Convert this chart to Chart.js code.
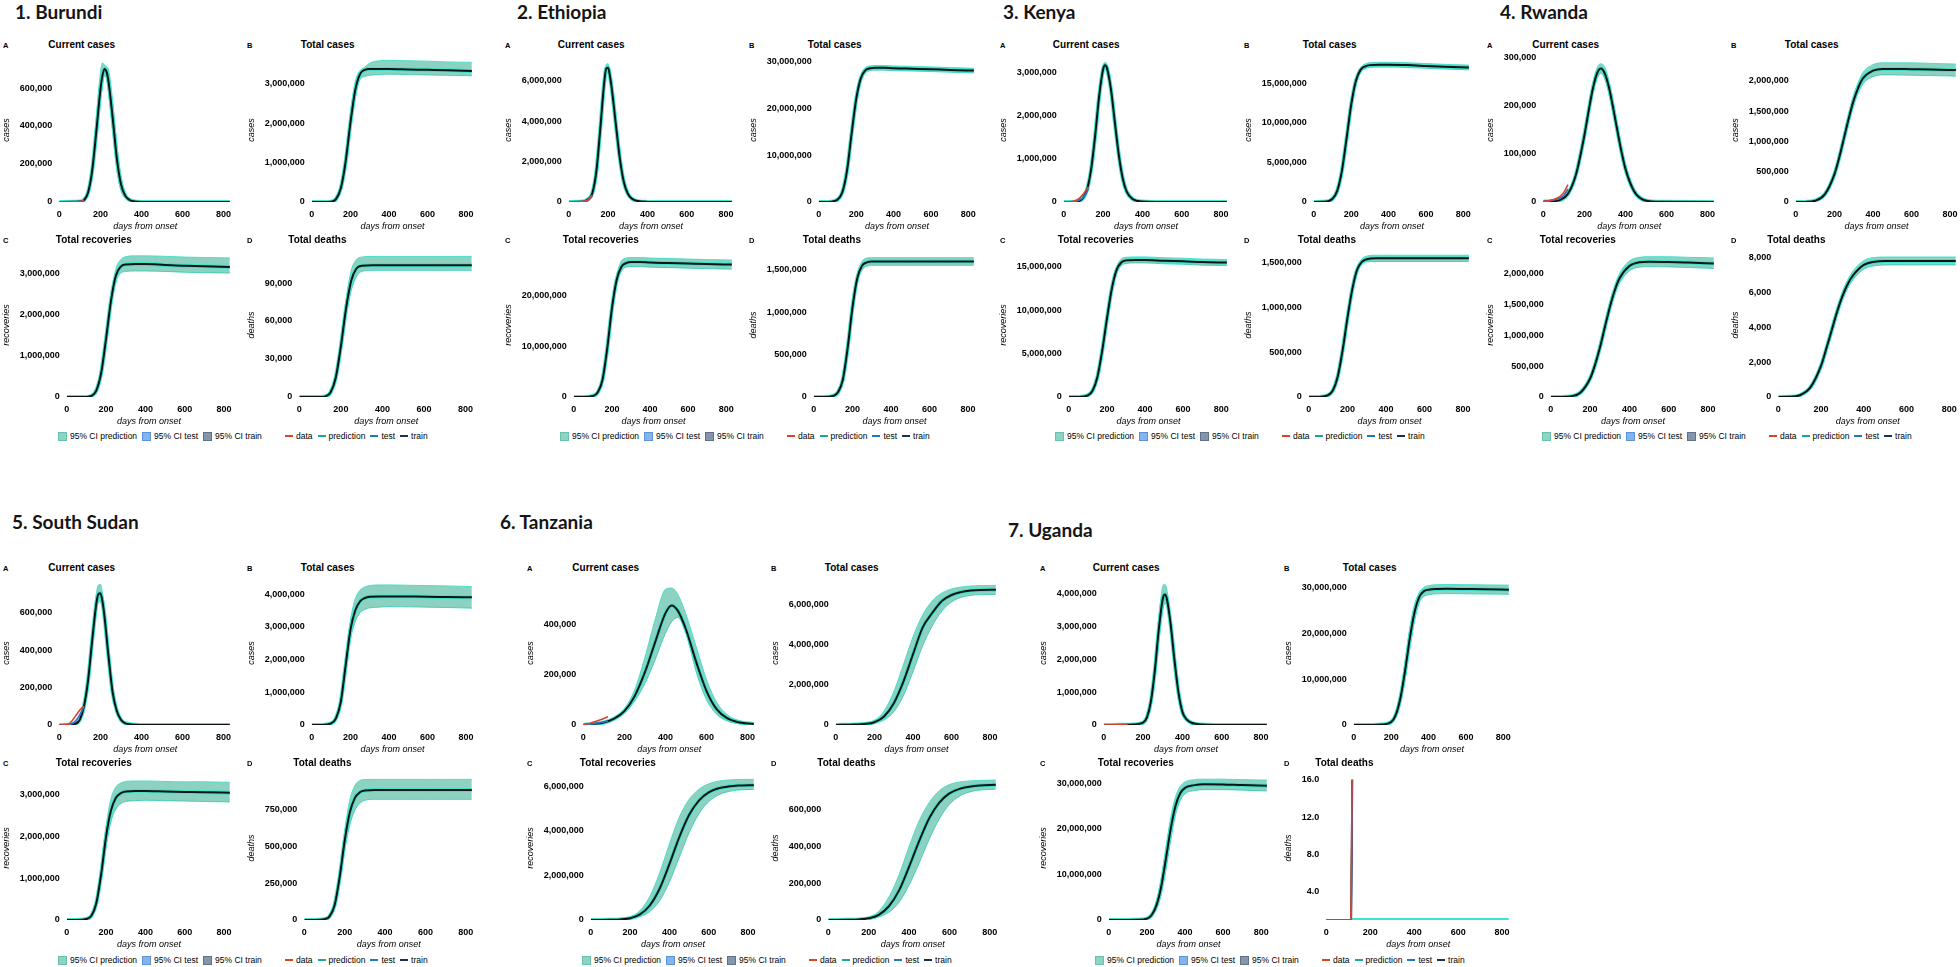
<!DOCTYPE html>
<html>
<head>
<meta charset="utf-8">
<script src="https://cdn.jsdelivr.net/npm/chart.js@4.4.1/dist/chart.umd.min.js"></script>
<style>
  html, body { margin: 0; padding: 0; background: #fff; }
  body { width: 1960px; height: 967px; position: relative; overflow: hidden;
         font-family: "Liberation Sans", Arial, sans-serif; color: #000; }
  canvas { position: absolute; }
  .country { position: absolute; font-family: Lato, "Open Sans", sans-serif; font-weight: 700;
             font-size: 19px; line-height: 1; white-space: nowrap; color: #151515; }
  .letter { position: absolute; font-size: 7.5px; font-weight: 700; line-height: 1; }
  .ptitle { position: absolute; font-size: 10px; font-weight: 700; line-height: 1; white-space: nowrap; }
  .legend { position: absolute; display: flex; align-items: center; font-size: 8.5px;
            line-height: 1; white-space: nowrap; }
  .legend .sw { display: inline-block; width: 7px; height: 7px; margin-right: 3px; }
  .legend .ln { display: inline-block; width: 8px; height: 2px; margin-right: 3px; }
  .legend .it { margin-right: 5px; }
</style>
</head>
<body>
<script>
/* ─── Shared axis values ─── */
const xTicks = [0, 200, 400, 600, 800];
const xMax = 836;

/* ─── 1. Burundi ─── */
const burundiDaysA = [0, 100, 120, 140, 160, 180, 200, 210, 220, 230, 240, 260, 280, 300, 320, 340, 360, 400, 500, 830];
const burundiCurrent   = [0, 2e3, 10e3, 50e3, 165e3, 370e3, 590e3, 665e3, 700e3, 685e3, 630e3, 440e3, 230e3, 95e3, 35e3, 12e3, 4e3, 500, 0, 0];
const burundiCurrentHi = [0, 3e3, 14e3, 65e3, 205e3, 440e3, 680e3, 732e3, 722e3, 712e3, 695e3, 530e3, 310e3, 140e3, 55e3, 20e3, 7e3, 1e3, 0, 0];
const burundiCurrentLo = [0, 1e3, 7e3, 38e3, 130e3, 310e3, 520e3, 610e3, 665e3, 650e3, 575e3, 370e3, 170e3, 60e3, 20e3, 6e3, 2e3, 0, 0, 0];
const burundiEarlyDays = [0, 40, 80, 100, 120];
const burundiData = [0, 0, 1e3, 3e3, 9e3];
const burundiTest = [0, 0, 1e3, 2e3, 8e3];
const burundiDaysS = [0, 100, 125, 150, 175, 200, 225, 250, 275, 300, 350, 400, 500, 600, 700, 830];
const burundiTotal   = [0, 9e3, 71e3, 340e3, 1.01e6, 2.0e6, 2.83e6, 3.24e6, 3.35e6, 3.37e6, 3.37e6, 3.37e6, 3.36e6, 3.35e6, 3.34e6, 3.32e6];
const burundiTotalHi = [0, 12e3, 90e3, 420e3, 1.2e6, 2.25e6, 3.05e6, 3.33e6, 3.42e6, 3.52e6, 3.58e6, 3.59e6, 3.58e6, 3.57e6, 3.55e6, 3.54e6];
const burundiTotalLo = [0, 6e3, 55e3, 270e3, 0.85e6, 1.8e6, 2.62e6, 3.1e6, 3.18e6, 3.21e6, 3.23e6, 3.24e6, 3.23e6, 3.22e6, 3.21e6, 3.2e6];
const burundiRecov   = [0, 2e3, 25e3, 155e3, 590e3, 1.43e6, 2.35e6, 2.96e6, 3.18e6, 3.23e6, 3.24e6, 3.24e6, 3.22e6, 3.2e6, 3.19e6, 3.17e6];
const burundiRecovHi = [0, 3e3, 32e3, 175e3, 650e3, 1.55e6, 2.5e6, 3.12e6, 3.35e6, 3.42e6, 3.44e6, 3.44e6, 3.43e6, 3.41e6, 3.4e6, 3.39e6];
const burundiRecovLo = [0, 1e3, 18e3, 135e3, 530e3, 1.3e6, 2.2e6, 2.8e6, 3.02e6, 3.06e6, 3.07e6, 3.07e6, 3.06e6, 3.04e6, 3.03e6, 3.02e6];
const burundiDeaths   = [0, 50, 500, 3.6e3, 15e3, 40e3, 70e3, 92e3, 101.5e3, 103.7e3, 104e3, 104e3, 104e3, 104e3, 104e3, 104e3];
const burundiDeathsHi = [0, 60, 600, 4.3e3, 17e3, 45e3, 77e3, 100e3, 108.5e3, 110.5e3, 111e3, 111e3, 111e3, 111e3, 111e3, 111e3];
const burundiDeathsLo = [0, 40, 400, 3e3, 13e3, 35e3, 63e3, 84e3, 95e3, 99e3, 100e3, 100e3, 100e3, 100e3, 100e3, 100e3];

/* ─── 2. Ethiopia ─── */
const ethiopiaDaysA = [0, 60, 80, 100, 120, 140, 160, 180, 190, 200, 210, 220, 240, 260, 280, 300, 320, 350, 400, 500, 830];
const ethiopiaCurrent   = [0, 8e3, 40e3, 150e3, 450e3, 1.5e6, 3.6e6, 5.9e6, 6.6e6, 6.65e6, 6.2e6, 5.52e6, 3.79e6, 2.14e6, 990e3, 420e3, 170e3, 45e3, 6e3, 0, 0];
const ethiopiaCurrentHi = [0, 9e3, 45e3, 170e3, 500e3, 1.65e6, 3.85e6, 6.15e6, 6.8e6, 6.85e6, 6.42e6, 5.75e6, 4.0e6, 2.3e6, 1.08e6, 470e3, 195e3, 55e3, 8e3, 0, 0];
const ethiopiaCurrentLo = [0, 7e3, 35e3, 130e3, 400e3, 1.35e6, 3.35e6, 5.65e6, 6.4e6, 6.45e6, 5.98e6, 5.3e6, 3.6e6, 1.98e6, 900e3, 375e3, 150e3, 38e3, 4e3, 0, 0];
const ethiopiaEarlyDays = [0, 40, 80, 100, 120];
const ethiopiaData = [0, 5e3, 40e3, 120e3, 350e3];
const ethiopiaTest = [0, 3e3, 30e3, 100e3, 300e3];
const ethiopiaDaysS = [0, 50, 100, 125, 150, 175, 200, 225, 250, 275, 300, 350, 400, 500, 600, 700, 830];
const ethiopiaTotal   = [0, 10e3, 500e3, 2.0e6, 6.5e6, 14.5e6, 22e6, 26.5e6, 28.2e6, 28.6e6, 28.7e6, 28.7e6, 28.6e6, 28.5e6, 28.4e6, 28.25e6, 28.1e6];
const ethiopiaTotalHi = [0, 12e3, 560e3, 2.2e6, 7.0e6, 15.3e6, 22.8e6, 27.2e6, 28.8e6, 29.1e6, 29.2e6, 29.2e6, 29.1e6, 29.0e6, 28.9e6, 28.75e6, 28.6e6];
const ethiopiaTotalLo = [0, 8e3, 440e3, 1.8e6, 6.0e6, 13.7e6, 21.2e6, 25.8e6, 27.6e6, 28.1e6, 28.2e6, 28.2e6, 28.1e6, 28.0e6, 27.9e6, 27.75e6, 27.6e6];
const ethiopiaRecov   = [0, 5e3, 200e3, 900e3, 3.3e6, 9.5e6, 17.5e6, 23.2e6, 25.8e6, 26.5e6, 26.7e6, 26.7e6, 26.6e6, 26.5e6, 26.4e6, 26.3e6, 26.2e6];
const ethiopiaRecovHi = [0, 6e3, 240e3, 1.05e6, 3.7e6, 10.3e6, 18.5e6, 24.2e6, 26.9e6, 27.5e6, 27.6e6, 27.6e6, 27.5e6, 27.4e6, 27.3e6, 27.2e6, 27.1e6];
const ethiopiaRecovLo = [0, 4e3, 160e3, 750e3, 2.9e6, 8.7e6, 16.5e6, 22.2e6, 24.9e6, 25.7e6, 25.8e6, 25.8e6, 25.7e6, 25.6e6, 25.5e6, 25.4e6, 25.3e6];
const ethiopiaDeaths   = [0, 300, 12e3, 55e3, 200e3, 570e3, 1.05e6, 1.4e6, 1.55e6, 1.59e6, 1.6e6, 1.6e6, 1.6e6, 1.6e6, 1.6e6, 1.6e6, 1.6e6];
const ethiopiaDeathsHi = [0, 400, 14e3, 62e3, 225e3, 620e3, 1.11e6, 1.45e6, 1.6e6, 1.64e6, 1.645e6, 1.645e6, 1.645e6, 1.645e6, 1.645e6, 1.645e6, 1.645e6];
const ethiopiaDeathsLo = [0, 200, 10e3, 48e3, 175e3, 520e3, 0.99e6, 1.35e6, 1.5e6, 1.545e6, 1.555e6, 1.555e6, 1.555e6, 1.555e6, 1.555e6, 1.555e6, 1.555e6];

/* ─── 3. Kenya ─── */
const kenyaDaysA = [0, 60, 80, 100, 120, 140, 160, 180, 200, 210, 220, 240, 260, 280, 300, 320, 350, 400, 500, 830];
const kenyaCurrent   = [0, 5e3, 26e3, 103e3, 318e3, 790e3, 1.56e6, 2.46e6, 3.08e6, 3.17e6, 3.1e6, 2.61e6, 1.84e6, 1.09e6, 546e3, 240e3, 70e3, 10e3, 0, 0];
const kenyaCurrentHi = [0, 6e3, 30e3, 115e3, 345e3, 850e3, 1.65e6, 2.56e6, 3.17e6, 3.24e6, 3.18e6, 2.72e6, 1.96e6, 1.19e6, 610e3, 275e3, 85e3, 13e3, 0, 0];
const kenyaCurrentLo = [0, 4e3, 22e3, 92e3, 292e3, 730e3, 1.47e6, 2.36e6, 2.99e6, 3.09e6, 3.02e6, 2.5e6, 1.73e6, 1.0e6, 490e3, 210e3, 58e3, 8e3, 0, 0];
const kenyaEarlyDays = [0, 40, 60, 80, 100, 120, 125];
const kenyaData = [0, 8e3, 35e3, 90e3, 190e3, 320e3, 355e3];
const kenyaTest = [0, 4e3, 15e3, 45e3, 110e3, 260e3, 320e3];
const kenyaDaysS = [0, 50, 100, 125, 150, 175, 200, 225, 250, 275, 300, 350, 400, 500, 600, 700, 830];
const kenyaTotal   = [0, 20e3, 400e3, 1.4e6, 3.9e6, 8.0e6, 12.3e6, 15.3e6, 16.7e6, 17.15e6, 17.3e6, 17.35e6, 17.35e6, 17.3e6, 17.2e6, 17.1e6, 17.0e6];
const kenyaTotalHi = [0, 22e3, 440e3, 1.5e6, 4.15e6, 8.4e6, 12.8e6, 15.7e6, 17.0e6, 17.45e6, 17.6e6, 17.65e6, 17.65e6, 17.6e6, 17.5e6, 17.4e6, 17.3e6];
const kenyaTotalLo = [0, 18e3, 360e3, 1.3e6, 3.65e6, 7.6e6, 11.8e6, 14.9e6, 16.4e6, 16.85e6, 17.0e6, 17.05e6, 17.05e6, 17.0e6, 16.9e6, 16.8e6, 16.7e6];
const kenyaRecov   = [0, 8e3, 200e3, 750e3, 2.3e6, 5.3e6, 9.0e6, 12.4e6, 14.6e6, 15.5e6, 15.75e6, 15.8e6, 15.8e6, 15.7e6, 15.65e6, 15.55e6, 15.5e6];
const kenyaRecovHi = [0, 9e3, 230e3, 830e3, 2.5e6, 5.7e6, 9.5e6, 12.9e6, 15.0e6, 15.9e6, 16.1e6, 16.15e6, 16.15e6, 16.05e6, 16.0e6, 15.9e6, 15.85e6];
const kenyaRecovLo = [0, 7e3, 170e3, 670e3, 2.1e6, 4.9e6, 8.5e6, 11.9e6, 14.2e6, 15.1e6, 15.4e6, 15.45e6, 15.45e6, 15.35e6, 15.3e6, 15.2e6, 15.15e6];
const kenyaDeaths   = [0, 1e3, 20e3, 75e3, 230e3, 520e3, 880e3, 1.2e6, 1.42e6, 1.51e6, 1.54e6, 1.55e6, 1.55e6, 1.55e6, 1.55e6, 1.55e6, 1.55e6];
const kenyaDeathsHi = [0, 1.1e3, 22e3, 82e3, 250e3, 560e3, 930e3, 1.24e6, 1.45e6, 1.545e6, 1.575e6, 1.585e6, 1.585e6, 1.585e6, 1.585e6, 1.585e6, 1.585e6];
const kenyaDeathsLo = [0, 0.9e3, 18e3, 68e3, 210e3, 480e3, 830e3, 1.16e6, 1.39e6, 1.48e6, 1.51e6, 1.515e6, 1.515e6, 1.515e6, 1.515e6, 1.515e6, 1.515e6];

/* ─── 4. Rwanda ─── */
const rwandaDaysA = [0, 40, 80, 120, 160, 200, 220, 240, 260, 280, 300, 320, 340, 360, 380, 400, 440, 480, 550, 830];
const rwandaCurrent   = [1e3, 1.5e3, 4e3, 17e3, 59e3, 139e3, 188e3, 234e3, 266e3, 278e3, 267e3, 238e3, 196e3, 150e3, 106e3, 69e3, 24e3, 6e3, 500, 0];
const rwandaCurrentHi = [1e3, 1.8e3, 4.6e3, 19e3, 64e3, 148e3, 198e3, 245e3, 278e3, 288e3, 280e3, 252e3, 210e3, 163e3, 117e3, 78e3, 29e3, 8e3, 800, 0];
const rwandaCurrentLo = [1e3, 1.2e3, 3.4e3, 15e3, 54e3, 130e3, 178e3, 223e3, 254e3, 268e3, 255e3, 225e3, 183e3, 138e3, 96e3, 61e3, 20e3, 4.5e3, 300, 0];
const rwandaEarlyDays = [0, 20, 40, 60, 80, 100, 120];
const rwandaData = [1e3, 2e3, 4e3, 7e3, 11e3, 20e3, 36e3];
const rwandaTest = [1e3, 1.5e3, 3e3, 5e3, 8e3, 14e3, 27e3];
const rwandaDaysS = [0, 50, 100, 150, 200, 225, 250, 275, 300, 325, 350, 400, 450, 500, 600, 700, 830];
const rwandaTotal   = [0, 2e3, 21e3, 125e3, 457e3, 735e3, 1.06e6, 1.39e6, 1.68e6, 1.9e6, 2.05e6, 2.17e6, 2.2e6, 2.2e6, 2.195e6, 2.19e6, 2.18e6];
const rwandaTotalHi = [0, 2.5e3, 25e3, 140e3, 500e3, 790e3, 1.13e6, 1.47e6, 1.77e6, 1.99e6, 2.15e6, 2.27e6, 2.3e6, 2.3e6, 2.3e6, 2.29e6, 2.28e6];
const rwandaTotalLo = [0, 1.5e3, 17e3, 110e3, 415e3, 680e3, 0.99e6, 1.31e6, 1.59e6, 1.81e6, 1.96e6, 2.07e6, 2.1e6, 2.1e6, 2.095e6, 2.09e6, 2.08e6];
const rwandaRecov   = [0, 1e3, 10e3, 70e3, 300e3, 520e3, 800e3, 1.13e6, 1.45e6, 1.72e6, 1.92e6, 2.12e6, 2.18e6, 2.19e6, 2.185e6, 2.175e6, 2.16e6];
const rwandaRecovHi = [0, 1.2e3, 12e3, 80e3, 330e3, 570e3, 860e3, 1.2e6, 1.53e6, 1.8e6, 2.0e6, 2.2e6, 2.26e6, 2.27e6, 2.27e6, 2.26e6, 2.25e6];
const rwandaRecovLo = [0, 0.8e3, 8e3, 60e3, 270e3, 470e3, 740e3, 1.06e6, 1.37e6, 1.64e6, 1.84e6, 2.04e6, 2.1e6, 2.11e6, 2.105e6, 2.095e6, 2.08e6];
const rwandaDeaths   = [0, 10, 100, 550, 1.8e3, 2.8e3, 3.85e3, 4.9e3, 5.8e3, 6.5e3, 7.0e3, 7.6e3, 7.78e3, 7.82e3, 7.82e3, 7.82e3, 7.82e3];
const rwandaDeathsHi = [0, 12, 115, 620, 1.95e3, 3.0e3, 4.1e3, 5.15e3, 6.05e3, 6.75e3, 7.25e3, 7.85e3, 8.02e3, 8.05e3, 8.05e3, 8.05e3, 8.05e3];
const rwandaDeathsLo = [0, 8, 85, 480, 1.65e3, 2.6e3, 3.6e3, 4.65e3, 5.55e3, 6.25e3, 6.75e3, 7.35e3, 7.54e3, 7.59e3, 7.59e3, 7.59e3, 7.59e3];

/* ─── 5. South Sudan ─── */
const ssDaysA = [0, 40, 60, 80, 100, 120, 140, 160, 180, 190, 200, 210, 220, 240, 260, 280, 300, 320, 350, 400, 500, 830];
const ssCurrent   = [0, 1e3, 3e3, 7e3, 29e3, 100e3, 239e3, 452e3, 648e3, 699e3, 704e3, 661e3, 580e3, 362e3, 171e3, 75e3, 28e3, 10e3, 3e3, 500, 0, 0];
const ssCurrentHi = [0, 1.2e3, 3.5e3, 8e3, 33e3, 110e3, 260e3, 490e3, 700e3, 748e3, 752e3, 705e3, 620e3, 395e3, 190e3, 86e3, 33e3, 12e3, 4e3, 600, 0, 0];
const ssCurrentLo = [0, 0.8e3, 2.5e3, 6e3, 25e3, 90e3, 218e3, 415e3, 600e3, 655e3, 660e3, 620e3, 540e3, 330e3, 152e3, 65e3, 23e3, 8e3, 2e3, 400, 0, 0];
const ssEarlyDays = [0, 40, 60, 80, 100, 110, 120];
const ssData = [0, 2e3, 20e3, 50e3, 80e3, 92e3, 100e3];
const ssTest = [0, 1e3, 6e3, 22e3, 55e3, 75e3, 100e3];
const ssDaysS = [0, 50, 100, 125, 150, 175, 200, 225, 250, 275, 300, 350, 400, 500, 600, 700, 830];
const ssTotal   = [0, 2e3, 50e3, 200e3, 700e3, 1.8e6, 2.9e6, 3.5e6, 3.78e6, 3.88e6, 3.92e6, 3.93e6, 3.93e6, 3.925e6, 3.92e6, 3.91e6, 3.9e6];
const ssTotalHi = [0, 2.5e3, 60e3, 240e3, 820e3, 2.05e6, 3.2e6, 3.85e6, 4.12e6, 4.22e6, 4.26e6, 4.28e6, 4.28e6, 4.27e6, 4.26e6, 4.25e6, 4.23e6];
const ssTotalLo = [0, 1.5e3, 40e3, 160e3, 580e3, 1.55e6, 2.6e6, 3.15e6, 3.43e6, 3.53e6, 3.58e6, 3.6e6, 3.62e6, 3.61e6, 3.6e6, 3.59e6, 3.57e6];
const ssRecov   = [0, 1e3, 25e3, 100e3, 400e3, 1.1e6, 2.0e6, 2.62e6, 2.92e6, 3.03e6, 3.07e6, 3.08e6, 3.08e6, 3.07e6, 3.06e6, 3.05e6, 3.04e6];
const ssRecovHi = [0, 1.2e3, 30e3, 120e3, 470e3, 1.28e6, 2.25e6, 2.9e6, 3.18e6, 3.27e6, 3.31e6, 3.32e6, 3.32e6, 3.31e6, 3.3e6, 3.3e6, 3.29e6];
const ssRecovLo = [0, 0.8e3, 20e3, 80e3, 330e3, 0.95e6, 1.75e6, 2.35e6, 2.65e6, 2.78e6, 2.83e6, 2.85e6, 2.86e6, 2.85e6, 2.84e6, 2.83e6, 2.82e6];
const ssDeaths   = [0, 300, 6e3, 25e3, 100e3, 290e3, 540e3, 730e3, 830e3, 870e3, 882e3, 885e3, 885e3, 885e3, 885e3, 885e3, 885e3];
const ssDeathsHi = [0, 400, 7e3, 30e3, 118e3, 335e3, 610e3, 815e3, 915e3, 950e3, 957e3, 958e3, 958e3, 958e3, 958e3, 958e3, 958e3];
const ssDeathsLo = [0, 200, 5e3, 20e3, 82e3, 245e3, 470e3, 645e3, 745e3, 795e3, 815e3, 822e3, 822e3, 822e3, 822e3, 822e3, 822e3];

/* ─── 6. Tanzania ─── */
const tzDaysA = [0, 50, 100, 150, 200, 250, 300, 350, 400, 430, 460, 500, 550, 600, 650, 700, 750, 830];
const tzCurrent   = [1e3, 4e3, 10e3, 25e3, 55e3, 115e3, 210e3, 330e3, 445e3, 476e3, 455e3, 380e3, 250e3, 135e3, 62e3, 27e3, 12e3, 4e3];
const tzCurrentHi = [1e3, 4.5e3, 11e3, 28e3, 65e3, 140e3, 270e3, 420e3, 540e3, 545e3, 520e3, 440e3, 310e3, 180e3, 90e3, 42e3, 20e3, 7e3];
const tzCurrentLo = [1e3, 3.5e3, 9e3, 22e3, 47e3, 95e3, 165e3, 260e3, 365e3, 410e3, 428e3, 365e3, 210e3, 100e3, 42e3, 16e3, 6e3, 2e3];
const tzEarlyDays = [0, 20, 40, 60, 80, 100, 120];
const tzData = [0, 4e3, 9e3, 14e3, 20e3, 26e3, 33e3];
const tzTest = [0, 2e3, 4e3, 6e3, 9e3, 12e3, 16e3];
const tzDaysS = [0, 100, 150, 200, 250, 300, 350, 400, 450, 500, 550, 600, 650, 700, 750, 830];
const tzTotal   = [0, 25e3, 50e3, 140e3, 427e3, 1.08e6, 2.16e6, 3.53e6, 4.87e6, 5.6e6, 6.2e6, 6.5e6, 6.65e6, 6.72e6, 6.75e6, 6.76e6];
const tzTotalHi = [0, 35e3, 80e3, 230e3, 700e3, 1.65e6, 3.0e6, 4.4e6, 5.5e6, 6.2e6, 6.6e6, 6.8e6, 6.9e6, 6.95e6, 6.97e6, 6.98e6];
const tzTotalLo = [0, 18e3, 35e3, 85e3, 250e3, 650e3, 1.45e6, 2.65e6, 3.95e6, 4.95e6, 5.7e6, 6.15e6, 6.38e6, 6.48e6, 6.52e6, 6.53e6];
const tzRecov   = [0, 10e3, 25e3, 80e3, 250e3, 650e3, 1.4e6, 2.5e6, 3.7e6, 4.7e6, 5.35e6, 5.72e6, 5.9e6, 5.98e6, 6.02e6, 6.04e6];
const tzRecovHi = [0, 12e3, 40e3, 140e3, 420e3, 1.05e6, 2.1e6, 3.4e6, 4.6e6, 5.4e6, 5.85e6, 6.1e6, 6.22e6, 6.27e6, 6.29e6, 6.3e6];
const tzRecovLo = [0, 8e3, 15e3, 45e3, 140e3, 380e3, 850e3, 1.7e6, 2.8e6, 3.9e6, 4.75e6, 5.3e6, 5.6e6, 5.75e6, 5.82e6, 5.85e6];
const tzDeaths   = [0, 1e3, 3e3, 9e3, 28e3, 75e3, 160e3, 290e3, 430e3, 555e3, 640e3, 690e3, 715e3, 727e3, 733e3, 737e3];
const tzDeathsHi = [0, 1.2e3, 4.5e3, 15e3, 48e3, 125e3, 245e3, 400e3, 540e3, 640e3, 705e3, 738e3, 752e3, 758e3, 761e3, 763e3];
const tzDeathsLo = [0, 0.8e3, 2e3, 5e3, 16e3, 42e3, 95e3, 190e3, 310e3, 440e3, 550e3, 630e3, 675e3, 698e3, 708e3, 713e3];

/* ─── 7. Uganda ─── */
const ugDaysA = [0, 100, 150, 200, 220, 240, 260, 280, 300, 310, 320, 340, 360, 380, 400, 420, 450, 500, 600, 830];
const ugCurrent   = [0, 5e3, 15e3, 70e3, 240e3, 728e3, 1.67e6, 2.92e6, 3.84e6, 3.98e6, 3.87e6, 3.08e6, 1.96e6, 993e3, 400e3, 180e3, 60e3, 15e3, 1e3, 0];
const ugCurrentHi = [0, 6e3, 18e3, 85e3, 290e3, 870e3, 1.95e6, 3.3e6, 4.22e6, 4.29e6, 4.15e6, 3.3e6, 2.15e6, 1.12e6, 470e3, 215e3, 75e3, 20e3, 1.5e3, 0];
const ugCurrentLo = [0, 4e3, 12e3, 55e3, 195e3, 600e3, 1.42e6, 2.55e6, 3.48e6, 3.7e6, 3.65e6, 2.88e6, 1.8e6, 880e3, 340e3, 150e3, 48e3, 11e3, 500, 0];
const ugEarlyDays = [0, 40, 80, 120];
const ugData = [0, 2e3, 5e3, 12e3];
const ugTest = [0, 1e3, 3e3, 8e3];
const ugDaysS = [0, 100, 150, 200, 225, 250, 275, 300, 325, 350, 375, 400, 450, 500, 600, 700, 830];
const ugTotal   = [0, 20e3, 100e3, 650e3, 2.27e6, 6.0e6, 12.0e6, 19.0e6, 24.6e6, 27.9e6, 29.2e6, 29.5e6, 29.65e6, 29.7e6, 29.65e6, 29.6e6, 29.5e6];
const ugTotalHi = [0, 25e3, 130e3, 800e3, 2.8e6, 7.2e6, 14.0e6, 21.3e6, 26.3e6, 28.9e6, 30.0e6, 30.4e6, 30.6e6, 30.65e6, 30.6e6, 30.55e6, 30.5e6];
const ugTotalLo = [0, 15e3, 70e3, 500e3, 1.8e6, 4.9e6, 10.1e6, 16.7e6, 22.7e6, 26.6e6, 28.0e6, 28.4e6, 28.6e6, 28.65e6, 28.6e6, 28.55e6, 28.5e6];
const ugRecov   = [0, 10e3, 50e3, 300e3, 1.1e6, 3.2e6, 7.3e6, 13.5e6, 20.0e6, 25.0e6, 27.8e6, 29.0e6, 29.6e6, 29.8e6, 29.75e6, 29.6e6, 29.45e6];
const ugRecovHi = [0, 12e3, 65e3, 420e3, 1.5e6, 4.2e6, 9.2e6, 16.0e6, 22.5e6, 27.0e6, 29.3e6, 30.3e6, 30.8e6, 30.9e6, 30.9e6, 30.8e6, 30.7e6];
const ugRecovLo = [0, 8e3, 35e3, 200e3, 0.8e6, 2.4e6, 5.6e6, 11.0e6, 17.5e6, 23.0e6, 26.2e6, 27.7e6, 28.4e6, 28.6e6, 28.6e6, 28.5e6, 28.3e6];
const ugDeathFitDays = [0, 113, 118];
const ugDeathFit = [1, 1, 16];
const ugDeathDataDays = [0, 112, 117];
const ugDeathData = [1, 1, 16];
const ugDeathPredDays = [118, 830];
const ugDeathPred = [1, 1];

/* ─── Legend labels ─── */
const legendBoxLabels = ['95% CI prediction', '95% CI test', '95% CI train'];
const legendLineLabels = ['data', 'prediction', 'test', 'train'];

/* ─── Styles ─── */
const COLORS = {
  band: 'rgba(58, 178, 148, 0.58)',
  bandEdge: 'rgba(70, 222, 200, 0.95)',
  pred: '#3fe3cf',
  fit: '#0a1513',
  data: '#d8452b',
  test: '#2f6fd0',
};
const BOX_COLORS = [['#8fd3c3', '#66c2ad'], ['#86b3ea', '#5b93d8'], ['#8595aa', '#5f7088']];
const LINE_COLORS = ['#d8452b', '#1aa898', '#1f7ab8', '#1c2f55'];

Chart.defaults.font.family = "'Liberation Sans', Arial, sans-serif";
Chart.defaults.color = '#000';

const comma = v => v.toLocaleString('en-US');
const pts = (xs, ys) => xs.map((x, i) => ({ x, y: ys[i] }));

function addDiv(cls, text, x, y) {
  const d = document.createElement('div');
  d.className = cls;
  d.textContent = text;
  d.style.left = x + 'px';
  d.style.top = y + 'px';
  document.body.appendChild(d);
  return d;
}

/* ─── One subplot ─── */
function makeSub(L, T, pos, title, yTitle, s) {
  const right = (pos === 'B' || pos === 'D');
  const left = right ? L + 243 : L - 2;
  const width = right ? 231 : 234;
  const height = 185;
  const canvas = document.createElement('canvas');
  canvas.width = width; canvas.height = height;
  canvas.style.left = left + 'px';
  canvas.style.top = (T + 5) + 'px';
  canvas.style.width = width + 'px';
  canvas.style.height = height + 'px';
  document.body.appendChild(canvas);

  const line = (label, xs, ys, color, w, order, extra) => Object.assign({
    label, data: pts(xs, ys), borderColor: color, borderWidth: w, pointRadius: 0,
    fill: false, order, cubicInterpolationMode: 'monotone',
  }, extra || {});

  const datasets = [];
  if (s.hi) {
    datasets.push(line('95% CI prediction', s.xs, s.hi, COLORS.bandEdge, 1, 6, { fill: '+1', backgroundColor: COLORS.band }));
    datasets.push(line('ci-lo', s.xs, s.lo, COLORS.bandEdge, 1, 7));
  }
  datasets.push(line('prediction', s.predXs || s.xs, s.predYs || s.mid, COLORS.pred, 4, 4));
  datasets.push(line('train', s.fitXs || s.xs, s.fitYs || s.mid, COLORS.fit, 2, 2));
  if (s.early) {
    datasets.push(line('test', s.early, s.test, COLORS.test, 1.6, 1));
    datasets.push(line('data', s.dataXs || s.early, s.data, COLORS.data, 1.6, 0));
  }

  const tickFont = { size: 9, weight: 'bold' };
  const titleFont = { size: 9, style: 'italic' };

  const chart = new Chart(canvas, {
    type: 'line',
    data: { datasets },
    options: {
      responsive: false,
      animation: false,
      devicePixelRatio: 1,
      layout: { padding: { top: 8, right: 4, bottom: 0, left: 0 } },
      plugins: { legend: { display: false }, tooltip: { enabled: false } },
      scales: {
        x: {
          type: 'linear', min: 0, max: xMax,
          grid: { display: false, drawTicks: false },
          border: { display: false },
          ticks: { padding: 7, autoSkip: false, maxRotation: 0, font: tickFont, color: '#000' },
          afterBuildTicks: ax => { ax.ticks = xTicks.map(v => ({ value: v })); },
          afterFit: ax => { ax.height = 33; ax.paddingLeft = 0; ax.paddingRight = 0; },
          title: { display: true, text: 'days from onset', color: '#000',
                   font: titleFont, padding: { top: 0, bottom: 3 } },
        },
        y: {
          type: 'linear', min: s.yMin || 0, max: s.yMax,
          grid: { display: false, drawTicks: false },
          border: { display: false },
          ticks: { padding: 7, autoSkip: false, font: tickFont, color: '#000', callback: s.fmt || comma },
          afterBuildTicks: ax => { ax.ticks = s.yTicks.map(v => ({ value: v })); },
          afterFit: ax => { ax.paddingTop = 0; ax.paddingBottom = 0; },
          title: { display: true, text: yTitle, color: '#000',
                   font: titleFont, padding: { top: 0, bottom: 1 } },
        },
      },
    },
  });

  addDiv('letter', pos, right ? L + 244 : L, T - 3.5);
  addDiv('ptitle', title, left + chart.chartArea.left - 11, T - 5);
  return chart;
}

function makeLegend(L, y) {
  const boxes = document.createElement('div');
  boxes.className = 'legend';
  boxes.style.left = (L + 55) + 'px';
  boxes.style.top = (y - 4.5) + 'px';
  boxes.innerHTML = legendBoxLabels.map((t, i) =>
    `<span class="sw" style="background:${BOX_COLORS[i][0]};border:1px solid ${BOX_COLORS[i][1]}"></span><span class="it">${t}</span>`).join('');
  document.body.appendChild(boxes);

  const lines = document.createElement('div');
  lines.className = 'legend';
  lines.style.left = (L + 282) + 'px';
  lines.style.top = (y - 4.5) + 'px';
  lines.innerHTML = legendLineLabels.map((t, i) =>
    `<span class="ln" style="background:${LINE_COLORS[i]}"></span><span class="it">${t}</span>`).join('');
  document.body.appendChild(lines);
}

function makeCountry(c) {
  addDiv('country', c.name, c.titleX, c.titleY - 10);
  makeSub(c.L, c.T1, 'A', 'Current cases', 'cases', c.A);
  makeSub(c.L, c.T1, 'B', 'Total cases', 'cases', c.B);
  makeSub(c.L, c.T2, 'C', 'Total recoveries', 'recoveries', c.C);
  makeSub(c.L, c.T2, 'D', 'Total deaths', 'deaths', c.D);
  makeLegend(c.L, c.legendY);
}

const countries = [
  { name: '1. Burundi', L: 3, T1: 45, T2: 240, legendY: 436, titleX: 15, titleY: 12,
    A: { xs: burundiDaysA, mid: burundiCurrent, hi: burundiCurrentHi, lo: burundiCurrentLo,
         early: burundiEarlyDays, data: burundiData, test: burundiTest, yMax: 758e3, yTicks: [0, 2e5, 4e5, 6e5] },
    B: { xs: burundiDaysS, mid: burundiTotal, hi: burundiTotalHi, lo: burundiTotalLo, yMax: 3.65e6, yTicks: [0, 1e6, 2e6, 3e6] },
    C: { xs: burundiDaysS, mid: burundiRecov, hi: burundiRecovHi, lo: burundiRecovLo, yMax: 3.51e6, yTicks: [0, 1e6, 2e6, 3e6] },
    D: { xs: burundiDaysS, mid: burundiDeaths, hi: burundiDeathsHi, lo: burundiDeathsLo, yMax: 113.7e3, yTicks: [0, 3e4, 6e4, 9e4] } },
  { name: '2. Ethiopia', L: 505, T1: 45, T2: 240, legendY: 436, titleX: 517, titleY: 12,
    A: { xs: ethiopiaDaysA, mid: ethiopiaCurrent, hi: ethiopiaCurrentHi, lo: ethiopiaCurrentLo,
         early: ethiopiaEarlyDays, data: ethiopiaData, test: ethiopiaTest, yMax: 7.13e6, yTicks: [0, 2e6, 4e6, 6e6] },
    B: { xs: ethiopiaDaysS, mid: ethiopiaTotal, hi: ethiopiaTotalHi, lo: ethiopiaTotalLo, yMax: 30.8e6, yTicks: [0, 1e7, 2e7, 3e7] },
    C: { xs: ethiopiaDaysS, mid: ethiopiaRecov, hi: ethiopiaRecovHi, lo: ethiopiaRecovLo, yMax: 28.5e6, yTicks: [0, 1e7, 2e7] },
    D: { xs: ethiopiaDaysS, mid: ethiopiaDeaths, hi: ethiopiaDeathsHi, lo: ethiopiaDeathsLo, yMax: 1.70e6, yTicks: [0, 5e5, 1e6, 1.5e6] } },
  { name: '3. Kenya', L: 1000, T1: 45, T2: 240, legendY: 436, titleX: 1003, titleY: 12,
    A: { xs: kenyaDaysA, mid: kenyaCurrent, hi: kenyaCurrentHi, lo: kenyaCurrentLo,
         early: kenyaEarlyDays, data: kenyaData, test: kenyaTest, yMax: 3.34e6, yTicks: [0, 1e6, 2e6, 3e6] },
    B: { xs: kenyaDaysS, mid: kenyaTotal, hi: kenyaTotalHi, lo: kenyaTotalLo, yMax: 18.2e6, yTicks: [0, 5e6, 1e7, 1.5e7] },
    C: { xs: kenyaDaysS, mid: kenyaRecov, hi: kenyaRecovHi, lo: kenyaRecovLo, yMax: 16.6e6, yTicks: [0, 5e6, 1e7, 1.5e7] },
    D: { xs: kenyaDaysS, mid: kenyaDeaths, hi: kenyaDeathsHi, lo: kenyaDeathsLo, yMax: 1.61e6, yTicks: [0, 5e5, 1e6, 1.5e6] } },
  { name: '4. Rwanda', L: 1487, T1: 45, T2: 240, legendY: 436, titleX: 1500, titleY: 12,
    A: { xs: rwandaDaysA, mid: rwandaCurrent, hi: rwandaCurrentHi, lo: rwandaCurrentLo,
         early: rwandaEarlyDays, data: rwandaData, test: rwandaTest, yMax: 300e3, yTicks: [0, 1e5, 2e5, 3e5] },
    B: { xs: rwandaDaysS, mid: rwandaTotal, hi: rwandaTotalHi, lo: rwandaTotalLo, yMax: 2.38e6, yTicks: [0, 5e5, 1e6, 1.5e6, 2e6] },
    C: { xs: rwandaDaysS, mid: rwandaRecov, hi: rwandaRecovHi, lo: rwandaRecovLo, yMax: 2.33e6, yTicks: [0, 5e5, 1e6, 1.5e6, 2e6] },
    D: { xs: rwandaDaysS, mid: rwandaDeaths, hi: rwandaDeathsHi, lo: rwandaDeathsLo, yMax: 8.28e3, yTicks: [0, 2e3, 4e3, 6e3, 8e3] } },
  { name: '5. South Sudan', L: 3, T1: 568, T2: 763, legendY: 960, titleX: 12, titleY: 522,
    A: { xs: ssDaysA, mid: ssCurrent, hi: ssCurrentHi, lo: ssCurrentLo,
         early: ssEarlyDays, data: ssData, test: ssTest, yMax: 770e3, yTicks: [0, 2e5, 4e5, 6e5] },
    B: { xs: ssDaysS, mid: ssTotal, hi: ssTotalHi, lo: ssTotalLo, yMax: 4.4e6, yTicks: [0, 1e6, 2e6, 3e6, 4e6] },
    C: { xs: ssDaysS, mid: ssRecov, hi: ssRecovHi, lo: ssRecovLo, yMax: 3.44e6, yTicks: [0, 1e6, 2e6, 3e6] },
    D: { xs: ssDaysS, mid: ssDeaths, hi: ssDeathsHi, lo: ssDeathsLo, yMax: 981e3, yTicks: [0, 2.5e5, 5e5, 7.5e5] } },
  { name: '6. Tanzania', L: 527, T1: 568, T2: 763, legendY: 960, titleX: 500, titleY: 522,
    A: { xs: tzDaysA, mid: tzCurrent, hi: tzCurrentHi, lo: tzCurrentLo,
         early: tzEarlyDays, data: tzData, test: tzTest, yMax: 573e3, yTicks: [0, 2e5, 4e5] },
    B: { xs: tzDaysS, mid: tzTotal, hi: tzTotalHi, lo: tzTotalLo, yMax: 7.2e6, yTicks: [0, 2e6, 4e6, 6e6] },
    C: { xs: tzDaysS, mid: tzRecov, hi: tzRecovHi, lo: tzRecovLo, yMax: 6.45e6, yTicks: [0, 2e6, 4e6, 6e6] },
    D: { xs: tzDaysS, mid: tzDeaths, hi: tzDeathsHi, lo: tzDeathsLo, yMax: 785e3, yTicks: [0, 2e5, 4e5, 6e5] } },
  { name: '7. Uganda', L: 1040, T1: 568, T2: 763, legendY: 960, titleX: 1008, titleY: 530,
    A: { xs: ugDaysA, mid: ugCurrent, hi: ugCurrentHi, lo: ugCurrentLo,
         early: ugEarlyDays, data: ugData, test: ugTest, yMax: 4.39e6, yTicks: [0, 1e6, 2e6, 3e6, 4e6] },
    B: { xs: ugDaysS, mid: ugTotal, hi: ugTotalHi, lo: ugTotalLo, yMax: 31.4e6, yTicks: [0, 1e7, 2e7, 3e7] },
    C: { xs: ugDaysS, mid: ugRecov, hi: ugRecovHi, lo: ugRecovLo, yMax: 31.6e6, yTicks: [0, 1e7, 2e7, 3e7] },
    D: { predXs: ugDeathPredDays, predYs: ugDeathPred, fitXs: ugDeathFitDays, fitYs: ugDeathFit,
         early: ugDeathFitDays, test: ugDeathFit, dataXs: ugDeathDataDays, data: ugDeathData,
         yMin: 1, yMax: 16.4, yTicks: [4, 8, 12, 16], fmt: v => v.toFixed(1) } },
];

countries.forEach(makeCountry);
</script>
</body>
</html>
